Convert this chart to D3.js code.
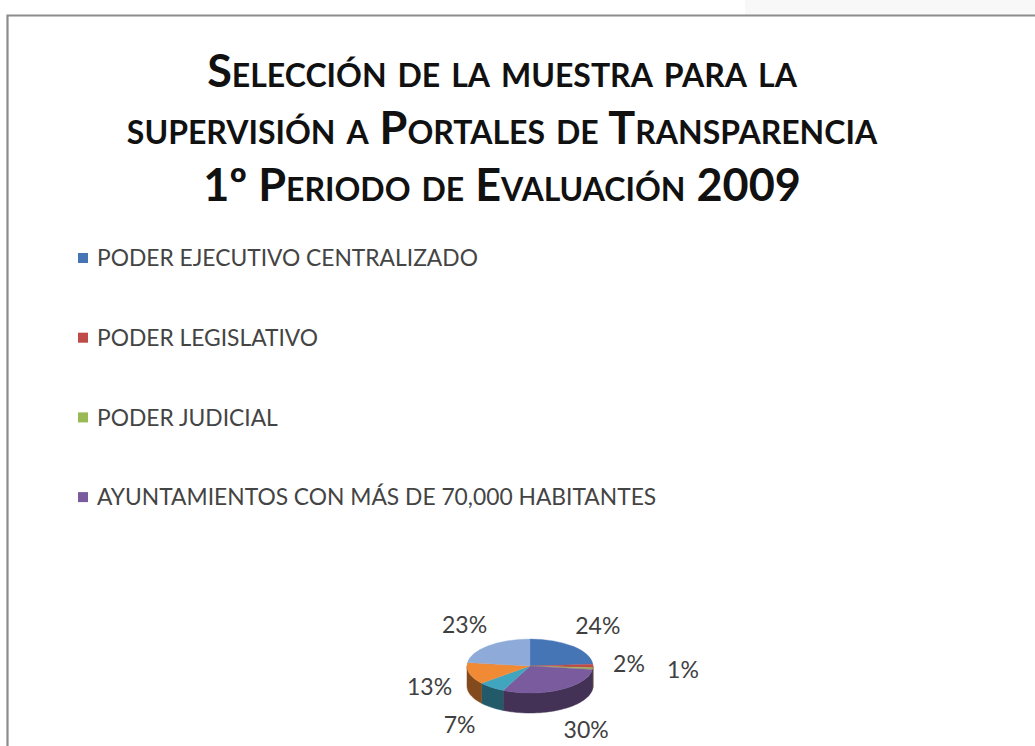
<!DOCTYPE html>
<html>
<head>
<meta charset="utf-8">
<script src="https://cdn.jsdelivr.net/npm/d3@7"></script>
<style>
    body { margin: 0; background: #fff; }
    svg { display: block; }
    text { font-family: Lato, "Open Sans", sans-serif; }
</style>
</head>
<body>
<svg id="chart" width="1035" height="746"></svg>
<script>
// chart data
var titleLines = [
    'Selección de la muestra para la',
    'supervisión a Portales de Transparencia',
    '1º Periodo de Evaluación 2009'
];
// legend only lists the first four series (the rest got cut off in the original)
var categories = [
    'PODER EJECUTIVO CENTRALIZADO',
    'PODER LEGISLATIVO',
    'PODER JUDICIAL',
    'AYUNTAMIENTOS CON MÁS DE 70,000 HABITANTES'
];
var shares = [24, 2, 1, 30, 7, 13, 23];
var colors = ['#4675b6', '#be4b48', '#98b954', '#7a5c9e', '#41a5c0', '#f08a35', '#8eaad8'];

var svg = d3.select('#chart');

// frame
svg.append('rect')
    .attr('x', 745).attr('y', 0).attr('width', 290).attr('height', 15)
    .attr('fill', '#f8f8f8');
svg.append('path')
    .attr('d', 'M7.5,746 V15.5 H1035')
    .attr('fill', 'none')
    .attr('stroke', '#8c8c8c')
    .attr('stroke-width', 2.2);

// title
svg.append('g')
    .selectAll('text')
    .data(titleLines)
    .enter()
    .append('text')
    .attr('x', 502)
    .attr('y', function (d, i) { return 87 + i * 57; })
    .attr('text-anchor', 'middle')
    .style('font-variant', 'small-caps')
    .style('font-weight', 'bold')
    .style('font-size', '45px')
    .attr('fill', '#111')
    .text(String);

// legend
var legend = svg.append('g')
    .selectAll('g')
    .data(categories)
    .enter()
    .append('g')
    .attr('transform', function (d, i) {
        return 'translate(78,' + (258 + i * 79.7) + ')';
    });

legend.append('rect')
    .attr('x', 0).attr('y', -5)
    .attr('width', 10).attr('height', 10)
    .attr('fill', function (d, i) { return colors[i]; });

legend.append('text')
    .attr('x', 19)
    .attr('y', 0)
    .attr('dy', '0.36em')
    .style('font-size', '22.8px')
    .attr('fill', '#444')
    .text(String);

// 3d pie
var cx = 530, cy = 666, rx = 63, ry = 27, depth = 20;

var pie = d3.pie().sort(null).value(function (d) { return d; });
var arcs = pie(shares);
arcs.forEach(function (d, i) { d.color = colors[i]; });

var pieG = svg.append('g').attr('transform', 'translate(' + cx + ',' + cy + ')');

function pt(a, dy) {
    return [rx * Math.sin(a), -ry * Math.cos(a) + (dy || 0)];
}

// side walls (front half only: angles between PI/2 and 3PI/2)
arcs.forEach(function (d) {
    var s = Math.max(d.startAngle, Math.PI / 2);
    var e = Math.min(d.endAngle, Math.PI * 3 / 2);
    if (e <= s) return;
    var n = Math.max(2, Math.ceil((e - s) / 0.03));
    var top = d3.range(n + 1).map(function (k) { return pt(s + (e - s) * k / n); });
    var bottom = top.slice().reverse().map(function (p) { return [p[0], p[1] + depth]; });
    var side = d3.color(d.color).darker(1.7);
    pieG.append('path')
        .attr('d', d3.line()(top.concat(bottom)) + 'Z')
        .attr('fill', side)
        .attr('stroke', side)
        .attr('stroke-width', 0.5);
});

// top faces
var arc = d3.arc().innerRadius(0).outerRadius(rx);
pieG.append('g')
    .attr('transform', 'scale(1,' + (ry / rx) + ')')
    .selectAll('path')
    .data(arcs)
    .enter()
    .append('path')
    .attr('d', arc)
    .attr('fill', function (d) { return d.color; })
    .attr('stroke', function (d) { return d.color; })
    .attr('stroke-width', 0.5);

// percent labels, pushed a bit further out on the front (lower) half
var prev = null;
arcs.forEach(function (d) {
    var a = (d.startAngle + d.endAngle) / 2;
    var s = Math.sin(a), c = Math.cos(a);
    var front = Math.max(0, -c);
    var x = 99 * s + 20 * s * front;
    var y = -52 * c + depth * Math.min(1, front * 1.5) - 2;
    if (prev && Math.abs(prev[0] - x) < 40 && Math.abs(prev[1] - y) < 18) {
        x = prev[0] + 54;
        y = prev[1] + 6;
    }
    prev = [x, y];
    pieG.append('text')
        .attr('x', x)
        .attr('y', y)
        .attr('dy', '0.36em')
        .attr('text-anchor', 'middle')
        .style('font-size', '23px')
        .attr('fill', '#404040')
        .text(d.data + '%');
});
</script>
</body>
</html>
